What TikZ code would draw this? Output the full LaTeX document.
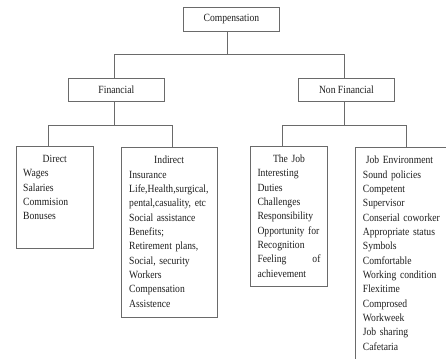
\documentclass[tikz,border=0pt]{standalone}
\usepackage{fontspec}
\setmainfont[FakeStretch=0.875]{Liberation Serif}
\definecolor{linegray}{HTML}{6A6A6A}
\definecolor{textcol}{HTML}{1E1E1E}
\tikzset{
  box/.style={draw=linegray, line width=0.8pt, rectangle, inner sep=0pt, anchor=north west,
    font=\fontsize{11}{14.33}\selectfont, text=textcol},
  txt/.style={anchor=north west, inner sep=0pt, align=left, text width=95pt,
    font=\fontsize{11}{14.33}\selectfont, text=textcol},
  conn/.style={draw=linegray, line width=0.8pt}
}
\newcommand{\ttl}[2]{\rule{0pt}{10pt}\makebox[#1][c]{#2}}
\begin{document}
\begin{tikzpicture}[x=1pt,y=-1pt]
\useasboundingbox (0,0) rectangle (446,358);
\clip (0,0) rectangle (446,358);
\fill[white] (0,0) rectangle (446,358);
% top level boxes
\node[box, minimum width=96pt, minimum height=24pt] (comp) at (183,7) {Compensation};
\node[box, minimum width=96pt, minimum height=23pt] (fin) at (68,78) {Financial};
\node[box, minimum width=96pt, minimum height=23pt] (nonfin) at (298,78) {Non Financial};
% lower boxes
\node[box, minimum width=77pt, minimum height=102pt] (direct) at (16,146) {};
\node[box, minimum width=96pt, minimum height=170pt] (indirect) at (121,147) {};
\node[box, minimum width=77pt, minimum height=140pt] (job) at (250,146) {};
\node[box, minimum width=103pt, minimum height=230pt] (env) at (355,147) {};
% texts
\node[txt] (directtxt) at (23,152.3)
  {\ttl{63pt}{Direct}\\Wages\\Salaries\\Commision\\Bonuses};
\node[txt] (indirecttxt) at (129,153.7)
  {\ttl{80pt}{Indirect}\\Insurance\\Life,Health,surgical,\\pental,casuality, etc\\Social assistance\\Benefits;\\Retirement plans,\\Social, security\\Workers\\Compensation\\Assistence};
\node[txt] (jobtxt) at (257.3,152.3)
  {\ttl{63pt}{The Job}\\Interesting\\Duties\\Challenges\\Responsibility\\Opportunity for\\Recognition\\\makebox[63pt][s]{Feeling\hfill of}\\achievement};
\node[txt] (envtxt) at (362.7,153.7)
  {\ttl{73pt}{Job Environment}\\Sound policies\\Competent\\Supervisor\\Conserial coworker\\Appropriate status\\Symbols\\Comfortable\\Working condition\\Flexitime\\Comprosed\\Workweek\\Job sharing\\Cafetaria};
% connectors
\draw[conn] ([xshift=-4.3pt]comp.south) -- ++(0,23) coordinate (c1);
\draw[conn] ([xshift=-2pt]fin.north) |- (c1) -| ([xshift=-2pt]nonfin.north);
\draw[conn] ([xshift=-2pt]fin.south) -- ++(0,24) coordinate (c2);
\draw[conn] ([xshift=-6.5pt]direct.north) |- (c2) -| ([xshift=3pt]indirect.north);
\draw[conn] ([xshift=-2pt]nonfin.south) -- ++(0,24) coordinate (c3);
\draw[conn] ([xshift=-6.5pt]job.north) |- (c3) -| ([xshift=-1pt]env.north);
\end{tikzpicture}
\end{document}
